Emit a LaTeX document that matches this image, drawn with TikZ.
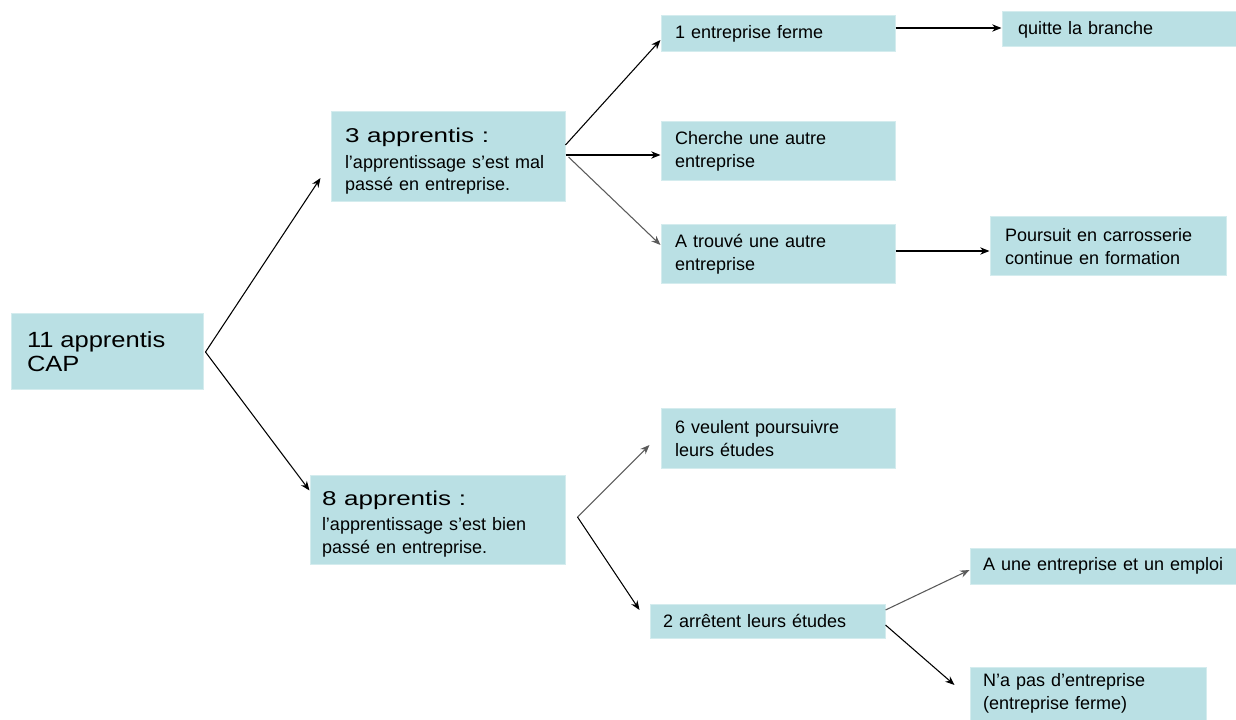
\documentclass[tikz,border=0pt]{standalone}
\usepackage{fontspec}
\setmainfont{Liberation Sans}
\usetikzlibrary{arrows.meta,calc}
\definecolor{boxc}{RGB}{186,224,228}
\definecolor{boxedge}{RGB}{212,236,238}
\definecolor{lineg}{RGB}{90,90,90}
\hyphenpenalty=10000
\newcommand{\smallT}{\fontsize{13.5}{17}\selectfont\hyphenpenalty=10000 }
\newcommand{\titleT}[1]{\rule{0pt}{17.5pt}\scalebox{1.3}[1]{\fontsize{15}{17}\selectfont #1}}
\newcommand{\rootT}[1]{\scalebox{1.16}[1]{\fontsize{16.5}{18}\selectfont #1}}
\begin{document}
\begin{tikzpicture}[x=0.75pt,y=-0.75pt,
  box/.style={fill=boxc,draw=boxedge,line width=0.75pt,align=left,font=\smallT,inner ysep=2pt},
  arr/.style={draw=black,line width=0.8pt,-{Stealth[length=7pt,width=5.5pt]}},
  arrg/.style={arr,draw=lineg}]
\useasboundingbox (0,0) rectangle (1236,720);
\node[box,inner xsep=12pt,text width=120pt,minimum height=57pt] (root) at (107,352)
  {\rootT{11 apprentis}\\[1pt]\rootT{CAP}};
\node[box,inner xsep=10.5pt,text width=154.5pt,minimum height=67.5pt] (A) at (448,157)
  {\titleT{3 apprentis :}\\[2.25pt]l'apprentissage s'est mal\\passé en entreprise.};
\node[box,inner xsep=9pt,text width=173.25pt,minimum height=66.75pt] (B) at (437.5,519.5)
  {\titleT{8 apprentis :}\\[2.25pt]l'apprentissage s'est bien\\passé en entreprise.};
\node[box,inner xsep=10.5pt,text width=154.5pt,minimum height=27pt] (C1) at (778,34)
  {1 entreprise ferme};
\node[box,inner xsep=10.5pt,text width=154.5pt,minimum height=44.25pt] (C2) at (778,151.5)
  {Cherche une autre\\entreprise};
\node[box,inner xsep=10.5pt,text width=154.5pt,minimum height=44.25pt] (C3) at (778,254)
  {A trouvé une autre\\entreprise};
\node[box,inner xsep=12pt,text width=151.5pt,minimum height=26.25pt] (D1) at (1119,29.5)
  {quitte la branche};
\node[box,inner xsep=11.25pt,text width=154.5pt,minimum height=44.25pt] (D3) at (1108,246.5)
  {Poursuit en carrosserie\\continue en formation};
\node[box,inner xsep=10.5pt,text width=154.5pt,minimum height=44.25pt] (E1) at (778,438.5)
  {6 veulent poursuivre\\leurs études};
\node[box,inner xsep=9.75pt,text width=156.75pt,minimum height=25.5pt] (E2) at (767.5,621)
  {2 arrêtent leurs études};
\node[box,inner xsep=9.75pt,text width=180pt,minimum height=27pt] (F1) at (1103,566)
  {\mbox{A une entreprise et un emploi}};
\node[box,inner xsep=9.75pt,text width=157.5pt,minimum height=39.75pt] (F2) at (1088,693.5)
  {N'a pas d'entreprise\\(entreprise ferme)};
% connectors
\draw[arr] ($(root.east)+(2,0)$) -- ($(A.west)+(-10,21)$);
\draw[arr] ($(root.east)+(2,0)$) -- ($(B.west)+(0,-29)$);
\draw[arr] ($(A.east)+(0,-12)$) -- ($(C1.west)+(0,6)$);
\draw[arr] ($(A.east)+(0,-2)$) -- ($(C2.west)+(0,3.5)$);
\draw[arrg] ($(A.east)+(3,0)$) -- ($(C3.west)+(0,-9)$);
\draw[arr] ($(C1.east)+(0,-6)$) -- ($(D1.west)+(0,-1.5)$);
\draw[arr] ($(C3.east)+(0,-3)$) -- ($(D3.west)+(0,4.5)$);
\draw[arrg] ($(B.east)+(12,-2.5)$) -- ($(E1.west)+(-11,6.5)$);
\draw[arr] ($(B.east)+(12,-2.5)$) -- ($(E2.west)+(-10,-11)$);
\draw[arrg] ($(E2.east)+(0,-11)$) -- ($(F1.west)+(0,4)$);
\draw[arr] ($(E2.east)+(0,4)$) -- ($(F2.west)+(-15,-8.5)$);
\end{tikzpicture}
\end{document}
